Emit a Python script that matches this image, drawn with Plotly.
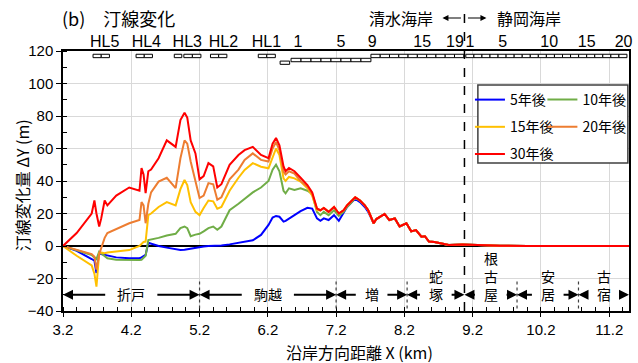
import plotly.graph_objects as go

# ---------------- data ----------------
# alongshore distance X (km)
x_km = [3.20, 3.40, 3.62, 3.66, 3.69, 3.73, 3.76, 3.81, 3.85, 3.98,
        4.17, 4.32, 4.35, 4.38, 4.41, 4.45, 4.49, 4.60, 4.72, 4.85,
        4.92, 4.98, 5.02, 5.07, 5.14, 5.20, 5.26, 5.33, 5.40, 5.46,
        5.52, 5.64, 5.77, 5.86, 5.98, 6.10, 6.21, 6.27, 6.32, 6.37,
        6.43, 6.46, 6.51, 6.59, 6.68, 6.78, 6.85, 6.92,
        6.97, 7.02, 7.09, 7.17, 7.24, 7.31, 7.36, 7.43, 7.48,
        7.55, 7.62, 7.67, 7.75, 7.79, 7.85, 7.91, 7.98, 8.06, 8.13,
        8.18, 8.23, 8.30, 8.37, 8.45, 8.50, 8.56, 8.64, 8.71, 8.85,
        9.05, 9.30, 9.60, 10.0, 10.5, 11.0, 11.49]

# shoreline change after 30 years (m)
dy_30 = [0, 8, 20, 28, 20, 12, 17, 28, 25, 31,
         36, 34, 48, 44, 32.5, 46, 47, 54, 65, 61,
         77.5, 82, 79, 65, 57, 41, 43, 51, 49, 36,
         38, 50, 56, 59, 61, 56, 54, 63, 66.5, 62,
         49, 46, 48, 46, 42, 37.5, 33, 23,
         22, 23.4, 21, 24, 20, 22, 25, 28, 30,
         28, 25, 22, 14, 16.6, 18, 19.7, 16, 17, 12,
         13, 14, 9, 9.8, 5.7, 6, 2.7, 2.5, 1.8, 0.6,
         1, 0.5, 0.2, 0, 0, 0, 0]

# after 20 years: own values up to 6.92 km, identical to 30 years beyond
dy_20_head = [0, -2.5, -5, -6.6, -14.5, -5, -1, 5, 8, 10.5,
              14, 16, 27, 25, 14, 26, 33, 39.6, 42, 35.6,
              54, 65, 63, 52, 40, 29.5, 31, 38.7, 38, 28.5,
              30, 41, 47, 53, 57, 53, 52, 60, 64, 59,
              45.7, 44, 46, 44.6, 40, 36.5, 32, 23]

# after 15 years
dy_15_head = [0, -6, -12, -17, -25, -4.4, -4, -4.4, -4, -3.5,
              -2.5, 0, 1, 2.5, 2.7, 19, 20, 24, 27, 25,
              35, 40.6, 37.5, 27, 21, 19, 23.4, 28, 27.5, 23,
              24, 34, 42, 46.8, 51, 48.8, 47.8, 55, 60, 56,
              41.6, 40, 42.5, 41.6, 39.6, 35.5, 31, 22]

# after 10 years
dy_10_head = [0, -2.5, -5.5, -7, -8, -3.5, -4.5, -6.6, -7.5, -8.5,
              -8.8, -8.6, -8.5, -7.5, -6, 3.7, 4, 5, 6.5, 7.5,
              11, 12, 11, 6, 7, 7.5, 9, 11, 12, 10,
              12, 22, 26, 29, 33, 36, 40, 47, 50, 46,
              34, 32.4, 35.5, 34.5, 35.5, 34, 32, 21,
              19, 21, 19, 22, 18.5, 21, 24, 27, 29.5]

# after 5 years
dy_5_head = [0, -3, -8, -9, -16.6, -4, -5, -5.5, -6, -7,
             -7.5, -7.5, -7, -6.5, -5.5, 2, 1.5, 0, -1, -2,
             -2.5, -2.3, -2, -1.5, -1, -0.5, -0.3, 0, 0, 0,
             0.3, 1, 2, 2.5, 3.5, 6.8, 13, 17.5, 18.5, 18,
             15, 15.5, 17, 19, 21.5, 23.5, 23, 17,
             15.5, 17, 16, 19, 15.5, 21, 24, 27, 29,
             27, 24, 21]

dy_20 = dy_20_head + dy_30[len(dy_20_head):]
dy_15 = dy_15_head + dy_30[len(dy_15_head):]
dy_10 = dy_10_head + dy_30[len(dy_10_head):]
dy_5 = dy_5_head + dy_30[len(dy_5_head):]

series_names = ["5年後", "10年後", "15年後", "20年後", "30年後"]
series_values = [dy_5, dy_10, dy_15, dy_20, dy_30]

# coastal sections: boundaries (km) and names
section_bounds = [3.2, 5.2, 7.2, 8.24, 9.08, 9.85, 10.75, 11.49]
section_names = ["折戸", "駒越", "増", "蛇<br>塚", "根<br>古<br>屋", "安<br>居", "古<br>宿"]
coast_boundary_km = 9.08  # 清水海岸 / 静岡海岸

# structure labels along the top axis
top_label_km = [3.81, 4.42, 5.02, 5.55, 6.18, 6.64, 7.27, 7.73, 8.46, 8.94,
                9.16, 9.64, 10.32, 10.87, 11.41]
top_label_text = ["HL5", "HL4", "HL3", "HL2", "HL1", "1", "5", "9", "15", "19",
                  "1", "5", "10", "15", "20"]

# breakwater groups: start km, end km, number of units, row
bw_start = [3.64, 4.27, 4.83, 4.97, 5.36, 6.06, 6.38, 6.54, 7.71, 9.10]
bw_end = [3.88, 4.51, 4.94, 5.22, 5.60, 6.31, 6.52, 7.71, 9.07, 11.46]
bw_count = [2, 2, 1, 2, 2, 2, 1, 8, 10, 20]
bw_row = [0, 0, 0, 0, 0, 0, 2, 1, 0, 0]

# ---------------- styling ----------------
colors = ["#0000FF", "#70AD47", "#FFC000", "#ED7D31", "#FF0000"]
legend_of = ["legend", "legend2", "legend", "legend2", "legend"]
row_levels = {0: (115.9, 118.0), 1: (113.4, 115.5), 2: (111.8, 113.8)}
FONT = "Liberation Sans, Arial, Noto Sans CJK JP"
CJK = "Noto Sans CJK JP, Liberation Sans"

fig = go.Figure()

for name, vals, col, lg in zip(series_names, series_values, colors, legend_of):
    fig.add_trace(go.Scatter(
        x=x_km, y=vals, mode="lines", name=name,
        line=dict(color=col, width=2),
        legend=lg, legendgroup=name,
    ))

# invisible trace to activate the top axis
fig.add_trace(go.Scatter(x=[x_km[0]], y=[0], xaxis="x2", mode="markers",
                         marker=dict(opacity=0), showlegend=False, hoverinfo="skip"))

shapes = []
# breakwater rectangles
for s, e, n, r in zip(bw_start, bw_end, bw_count, bw_row):
    w = (e - s) / n
    y0, y1 = row_levels[r]
    for i in range(n):
        shapes.append(dict(type="rect", xref="x", yref="y",
                           x0=s + i * w, x1=s + (i + 1) * w, y0=y0, y1=y1,
                           line=dict(color="black", width=1), fillcolor="white",
                           layer="above"))

# section separators (dotted)
for b in section_bounds[1:-1]:
    if b == coast_boundary_km:
        continue
    shapes.append(dict(type="line", xref="x", yref="y", x0=b, x1=b, y0=-38.5, y1=-21,
                       line=dict(color="#404040", width=1.2, dash="dot"), layer="above"))

# coast boundary (dashed, spanning to the header)
shapes.append(dict(type="line", xref="x", yref="paper", x0=coast_boundary_km,
                   x1=coast_boundary_km, y0=0, y1=1.165,
                   line=dict(color="black", width=1.5, dash="dash"), layer="above"))

# legend frame
shapes.append(dict(type="rect", xref="paper", yref="paper", x0=0.733, x1=0.998,
                   y0=0.569, y1=0.869, line=dict(color="#404040", width=1.5),
                   fillcolor="white", layer="above"))

annotations = []
ARROW_Y = -30
for i, name in enumerate(section_names):
    left, right = section_bounds[i], section_bounds[i + 1]
    mid = (left + right) / 2
    half_gap = 0.36 if "<br>" not in name and len(name) > 1 else 0.21
    annotations.append(dict(x=mid, y=-37.2, xref="x", yref="y", text=name,
                            showarrow=False, xanchor="center", yanchor="bottom",
                            font=dict(family=CJK, size=14, color="black")))
    for head, tail in ((left, mid - half_gap), (right, mid + half_gap)):
        annotations.append(dict(x=head, y=ARROW_Y, ax=tail, ay=ARROW_Y,
                                xref="x", yref="y", axref="x", ayref="y",
                                text="", showarrow=True, arrowhead=2, arrowsize=1,
                                arrowwidth=2, arrowcolor="black", standoff=0))

# header texts
annotations.append(dict(x=-0.005, y=1.127, xref="paper", yref="paper",
                        text="(b)\u3000汀線変化", showarrow=False,
                        xanchor="left", yanchor="middle",
                        font=dict(family=CJK, size=18, color="black")))
annotations.append(dict(x=0.658, y=1.127, xref="paper", yref="paper", text="清水海岸",
                        showarrow=False, xanchor="right", yanchor="middle",
                        font=dict(family=CJK, size=16, color="black")))
annotations.append(dict(x=0.763, y=1.127, xref="paper", yref="paper", text="静岡海岸",
                        showarrow=False, xanchor="left", yanchor="middle",
                        font=dict(family=CJK, size=16, color="black")))
for shift, tail in ((-22, 20), (22, -20)):
    annotations.append(dict(x=coast_boundary_km, y=1.127, xref="x", yref="paper",
                            ax=tail, ay=0, xshift=shift, text="", showarrow=True,
                            arrowhead=2, arrowsize=1, arrowwidth=1.2,
                            arrowcolor="black", standoff=0))

# axis titles
annotations.append(dict(x=0.5246, y=-0.158, xref="paper", yref="paper",
                        text="沿岸方向距離 X (km)", showarrow=False,
                        xanchor="center", yanchor="middle",
                        font=dict(family=CJK, size=16, color="black")))
annotations.append(dict(x=-0.072, y=0.485, xref="paper", yref="paper",
                        text="汀線変化量 ΔY (m)", showarrow=False, textangle=-90,
                        xanchor="center", yanchor="middle",
                        font=dict(family=CJK, size=16, color="black")))

fig.update_layout(
    width=638, height=363,
    margin=dict(l=63, r=5, t=51, b=52),
    paper_bgcolor="white", plot_bgcolor="white",
    font=dict(family=FONT, size=15, color="black"),
    showlegend=True,
    legend=dict(x=0.719, y=0.873, xanchor="left", yanchor="top",
                bgcolor="rgba(0,0,0,0)", borderwidth=0, tracegroupgap=6,
                font=dict(family=CJK, size=14, color="black")),
    legend2=dict(x=0.847, y=0.873, xanchor="left", yanchor="top",
                 bgcolor="rgba(0,0,0,0)", borderwidth=0, tracegroupgap=6,
                 font=dict(family=CJK, size=14, color="black")),
    xaxis=dict(range=[3.2, 11.49], tick0=3.2, dtick=1, tickformat=".1f",
               showgrid=True, gridcolor="#d9d9d9", gridwidth=1,
               showline=True, linecolor="black", linewidth=1.5, mirror=True,
               ticks="outside", ticklen=4, tickwidth=1.2, tickcolor="black",
               minor=dict(dtick=0.2, tick0=3.2, ticks="inside", ticklen=4,
                          tickwidth=1, tickcolor="black", showgrid=False),
               zeroline=False, tickfont=dict(size=15)),
    xaxis2=dict(range=[3.2, 11.49], overlaying="x", side="top", anchor="y",
                tickmode="array", tickvals=top_label_km, ticktext=top_label_text,
                tickangle=0, showgrid=False, ticks="", showline=False,
                zeroline=False, tickfont=dict(size=16)),
    yaxis=dict(range=[-40, 120], dtick=20, tick0=0,
               showgrid=True, gridcolor="#d9d9d9", gridwidth=1,
               showline=True, linecolor="black", linewidth=1.5, mirror=True,
               ticks="outside", ticklen=5, tickwidth=1.2, tickcolor="black",
               minor=dict(dtick=10, ticks="inside", ticklen=4, tickwidth=1,
                          tickcolor="black", showgrid=False),
               zeroline=True, zerolinecolor="black", zerolinewidth=1.5,
               tickfont=dict(size=15)),
    shapes=shapes,
    annotations=annotations,
)

fig.write_html("out.html")
